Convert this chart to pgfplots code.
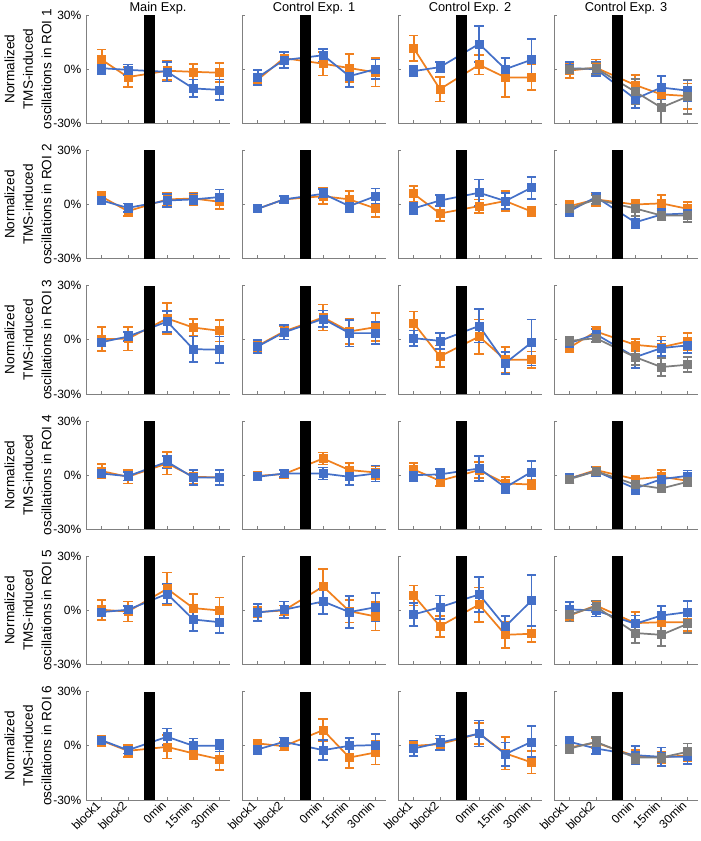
\documentclass[border=0pt]{standalone}
\usepackage{fontspec}
\setmainfont{Liberation Sans}
\usepackage{pgfplots}
\pgfplotsset{compat=1.18}
\definecolor{cO}{RGB}{240,128,30}
\definecolor{cB}{RGB}{68,112,200}
\definecolor{cG}{RGB}{125,125,125}
\pgfplotsset{
  base/.style={scale only axis, width=108pt, height=81.2pt, anchor=north west,
    xmin=0.4, xmax=5.9, ymin=-30, ymax=30,
    axis x line*=bottom, axis y line*=left,
    axis line style={draw=gray, line width=0.6pt},
    xtick={1,2,3.5,4.5,5.5}, ytick={-30,0,30},
    tick align=inside, major tick length=2.5pt, tick style={gray, line width=0.5pt},
    xticklabels={}, yticklabels={},
    ticklabel style={font=\fontsize{9}{10}\selectfont, text=black}},
  ylab/.style={yticklabels={-30\%,0\%,30\%},
    ylabel={Normalized\\TMS-induced\\oscillations in ROI #1},
    ylabel style={at={(axis description cs:-0.403,0.5)}, anchor=center, align=center,
      font=\fontsize{10.2}{13.9}\selectfont}},
  xlab/.style={xticklabels={block1,block2,0min,15min,30min},
    xticklabel style={rotate=45, anchor=east}},
  ttl/.style={title={#1}, title style={at={(0.5,1)}, anchor=base, yshift=-3.2pt,
    font=\fontsize{9.6}{11}\selectfont}},
  ser/.style={draw=#1, line width=1.3pt, mark=square*, mark size=3pt,
    mark options={fill=#1, draw=#1, line width=0.5pt},
    error bars/.cd, y dir=both, y explicit, error mark=-,
    error bar style={draw=#1, line width=1.3pt},
    error mark options={rotate=90, draw=#1, line width=1.3pt, mark size=3.5pt}},
}
\newcommand{\stimbar}{\fill[black] (axis cs:2.62,-30) rectangle (axis cs:3.04,30);}
\begin{document}
\begin{tikzpicture}
\path[use as bounding box] (0,0) rectangle (525pt,-630.75pt);
% ================= Row 1 =================
\begin{axis}[base, ylab=1, ttl={Main Exp.}, at={(64.5pt,-11.25pt)}]
\addplot[ser=cO] coordinates {(1,5.2) +- (0,5.7) (2,-4.4) +- (0,5.4) (3.5,-0.9) +- (0,5.3) (4.5,-1.5) +- (0,4.3) (5.5,-2) +- (0,5.3)};
\addplot[ser=cB] coordinates {(1,0.5) +- (0,3.3) (2,-0.4) +- (0,3) (3.5,-1.5) +- (0,5.3) (4.5,-10.7) +- (0,4.9) (5.5,-11.5) +- (0,5.8)};
\stimbar
\end{axis}
\begin{axis}[base, ttl={Control Exp. 1}, at={(181.5pt,-11.25pt)}]
\addplot[ser=cO] coordinates {(1,-5.9) +- (0,3) (2,6.1) +- (0,3.5) (3.5,3.0) +- (0,6.5) (4.5,0.6) +- (0,7.6) (5.5,-1.8) +- (0,7.9)};
\addplot[ser=cB] coordinates {(1,-4.6) +- (0,4.2) (2,5.0) +- (0,4.3) (3.5,7.7) +- (0,3.5) (4.5,-3.9) +- (0,6) (5.5,0) +- (0,5.3)};
\stimbar
\end{axis}
\begin{axis}[base, ttl={Control Exp. 2}, at={(298.5pt,-11.25pt)}]
\addplot[ser=cO] coordinates {(1,11.6) +- (0,7) (2,-11.1) +- (0,6.8) (3.5,2.4) +- (0,5.4) (4.5,-4.6) +- (0,11) (5.5,-4.6) +- (0,7.1)};
\addplot[ser=cB] coordinates {(1,-1.1) +- (0,3) (2,1.1) +- (0,2.9) (3.5,14) +- (0,10) (4.5,0) +- (0,6.3) (5.5,5.2) +- (0,11.3)};
\stimbar
\end{axis}
\begin{axis}[base, ttl={Control Exp. 3}, at={(415.5pt,-11.25pt)}]
\addplot[ser=cO] coordinates {(1,-0.8) +- (0,4.3) (2,0.8) +- (0,4.6) (3.5,-8.8) +- (0,5.4) (4.5,-14) +- (0,6) (5.5,-14.9) +- (0,7)};
\addplot[ser=cB] coordinates {(1,0.5) +- (0,3.5) (2,0) +- (0,4) (3.5,-16.5) +- (0,5) (4.5,-10.2) +- (0,6.2) (5.5,-11.9) +- (0,6)};
\addplot[ser=cG] coordinates {(1,0) +- (0,2.5) (2,0.5) +- (0,3) (3.5,-12.5) +- (0,7) (4.5,-21.3) +- (0,10) (5.5,-15.2) +- (0,9.5)};
\stimbar
\end{axis}
% ================= Row 2 =================
\begin{axis}[base, ylab=2, at={(64.5pt,-112.75pt)}]
\addplot[ser=cO] coordinates {(1,4.3) +- (0,2.7) (2,-3.7) +- (0,2.6) (3.5,2.8) +- (0,3.7) (4.5,3.3) +- (0,3.4) (5.5,1.5) +- (0,4)};
\addplot[ser=cB] coordinates {(1,2.2) +- (0,1.8) (2,-1.9) +- (0,2.4) (3.5,2.2) +- (0,3.7) (4.5,2.8) +- (0,2.8) (5.5,4.1) +- (0,4.2)};
\stimbar
\end{axis}
\begin{axis}[base, at={(181.5pt,-112.75pt)}]
\addplot[ser=cO] coordinates {(1,-2.4) +- (0,1.6) (2,2.8) +- (0,2.2) (3.5,4.6) +- (0,4.5) (4.5,2.8) +- (0,4.5) (5.5,-2.2) +- (0,4.6)};
\addplot[ser=cB] coordinates {(1,-2.4) +- (0,1.5) (2,2.8) +- (0,2) (3.5,5.9) +- (0,2.5) (4.5,-0.9) +- (0,3.4) (5.5,4.6) +- (0,4.3)};
\stimbar
\end{axis}
\begin{axis}[base, at={(298.5pt,-112.75pt)}]
\addplot[ser=cO] coordinates {(1,5.9) +- (0,4.4) (2,-5) +- (0,4) (3.5,-0.9) +- (0,3.7) (4.5,1.9) +- (0,5.4) (5.5,-3.9) +- (0,2.8)};
\addplot[ser=cB] coordinates {(1,-2.2) +- (0,3.1) (2,2.2) +- (0,3) (3.5,6.5) +- (0,7.4) (4.5,1.9) +- (0,4.6) (5.5,9.3) +- (0,6.1)};
\stimbar
\end{axis}
\begin{axis}[base, at={(415.5pt,-112.75pt)}]
\addplot[ser=cO] coordinates {(1,-0.9) +- (0,3) (2,2.8) +- (0,3.5) (3.5,0) +- (0,2.5) (4.5,0.6) +- (0,4.6) (5.5,-2.4) +- (0,3.7)};
\addplot[ser=cB] coordinates {(1,-3.7) +- (0,2.6) (2,4.1) +- (0,2.5) (3.5,-9.9) +- (0,3.3) (4.5,-5.6) +- (0,3.2) (5.5,-5) +- (0,4.5)};
\addplot[ser=cG] coordinates {(1,-2.2) +- (0,2) (2,2.8) +- (0,2.5) (3.5,-2.2) +- (0,4.2) (4.5,-6.1) +- (0,2.5) (5.5,-6.1) +- (0,3.5)};
\stimbar
\end{axis}
% ================= Row 3 =================
\begin{axis}[base, ylab=3, at={(64.5pt,-214.25pt)}]
\addplot[ser=cO] coordinates {(1,0.4) +- (0,6.5) (2,0.6) +- (0,6.5) (3.5,11.8) +- (0,8.5) (4.5,6.8) +- (0,4.8) (5.5,5.0) +- (0,5.9)};
\addplot[ser=cB] coordinates {(1,-1.3) +- (0,2.3) (2,1.8) +- (0,2.4) (3.5,10.1) +- (0,5.8) (4.5,-5.2) +- (0,7) (5.5,-5.5) +- (0,7.4)};
\stimbar
\end{axis}
\begin{axis}[base, at={(181.5pt,-214.25pt)}]
\addplot[ser=cO] coordinates {(1,-3.3) +- (0,3) (2,4.6) +- (0,2.8) (3.5,12.4) +- (0,7.2) (4.5,4.6) +- (0,7) (5.5,7.0) +- (0,7.8)};
\addplot[ser=cB] coordinates {(1,-3.7) +- (0,3.7) (2,4.1) +- (0,3.9) (3.5,11.6) +- (0,4.6) (4.5,3.7) +- (0,7.4) (5.5,3.7) +- (0,6.2)};
\stimbar
\end{axis}
\begin{axis}[base, at={(298.5pt,-214.25pt)}]
\addplot[ser=cO] coordinates {(1,9.2) +- (0,6.5) (2,-9.2) +- (0,6) (3.5,1.8) +- (0,9.5) (4.5,-11.1) +- (0,7) (5.5,-11.1) +- (0,4.6)};
\addplot[ser=cB] coordinates {(1,0.9) +- (0,4.3) (2,-0.6) +- (0,4.4) (3.5,7.7) +- (0,9.2) (4.5,-12.9) +- (0,6.1) (5.5,-1.5) +- (0,12.7)};
\stimbar
\end{axis}
\begin{axis}[base, at={(415.5pt,-214.25pt)}]
\addplot[ser=cO] coordinates {(1,-4.2) +- (0,2.6) (2,4.6) +- (0,2.8) (3.5,-2.8) +- (0,3.3) (4.5,-4.1) +- (0,6) (5.5,-0.9) +- (0,4.8)};
\addplot[ser=cB] coordinates {(1,-1.8) +- (0,3) (2,3.1) +- (0,3) (3.5,-9.6) +- (0,6) (4.5,-4.6) +- (0,4.2) (5.5,-3.1) +- (0,4.2)};
\addplot[ser=cG] coordinates {(1,-0.6) +- (0,2) (2,0.9) +- (0,2.2) (3.5,-9.6) +- (0,4.2) (4.5,-15.1) +- (0,4.9) (5.5,-13.8) +- (0,4.1)};
\stimbar
\end{axis}
% ================= Row 4 =================
\begin{axis}[base, ylab=4, at={(64.5pt,-315.75pt)}]
\addplot[ser=cO] coordinates {(1,2.2) +- (0,3.9) (2,-0.9) +- (0,3.7) (3.5,6.5) +- (0,6.2) (4.5,-0.9) +- (0,3.7) (5.5,-1.3) +- (0,4)};
\addplot[ser=cB] coordinates {(1,0.9) +- (0,1.8) (2,-0.6) +- (0,2.3) (3.5,7.4) +- (0,3.3) (4.5,-1.3) +- (0,4.2) (5.5,-1.3) +- (0,4.2)};
\stimbar
\end{axis}
\begin{axis}[base, at={(181.5pt,-315.75pt)}]
\addplot[ser=cO] coordinates {(1,-0.4) +- (0,2.2) (2,0.6) +- (0,2.2) (3.5,9.2) +- (0,3.3) (4.5,2.8) +- (0,3.9) (5.5,1.5) +- (0,3.7)};
\addplot[ser=cB] coordinates {(1,-0.9) +- (0,1.8) (2,0.9) +- (0,2) (3.5,0.9) +- (0,3.3) (4.5,-0.9) +- (0,4.4) (5.5,0.9) +- (0,4.4)};
\stimbar
\end{axis}
\begin{axis}[base, at={(298.5pt,-315.75pt)}]
\addplot[ser=cO] coordinates {(1,3.1) +- (0,3.7) (2,-3.1) +- (0,3) (3.5,2.8) +- (0,4.4) (4.5,-4.6) +- (0,3.7) (5.5,-5.2) +- (0,2.8)};
\addplot[ser=cB] coordinates {(1,0) +- (0,3.1) (2,0.4) +- (0,2.8) (3.5,3.7) +- (0,6.8) (4.5,-6.8) +- (0,3.1) (5.5,1.8) +- (0,6.1)};
\stimbar
\end{axis}
\begin{axis}[base, at={(415.5pt,-315.75pt)}]
\addplot[ser=cO] coordinates {(1,-1.8) +- (0,2.6) (2,2.8) +- (0,2) (3.5,-2.2) +- (0,1.8) (4.5,-0.9) +- (0,3.7) (5.5,-3.1) +- (0,2.3)};
\addplot[ser=cB] coordinates {(1,-1.8) +- (0,2.5) (2,2.2) +- (0,2.5) (3.5,-7.4) +- (0,3) (4.5,-2.2) +- (0,3) (5.5,-0.4) +- (0,3)};
\addplot[ser=cG] coordinates {(1,-2.2) +- (0,2) (2,2.2) +- (0,2) (3.5,-5.2) +- (0,2) (4.5,-7.4) +- (0,2.2) (5.5,-3.7) +- (0,2.6)};
\stimbar
\end{axis}
% ================= Row 5 =================
\begin{axis}[base, ylab=5, at={(64.5pt,-417.25pt)}]
\addplot[ser=cO] coordinates {(1,0.4) +- (0,5.5) (2,-0.6) +- (0,5.5) (3.5,12) +- (0,9) (4.5,1.3) +- (0,7.8) (5.5,0) +- (0,7.2)};
\addplot[ser=cB] coordinates {(1,-0.9) +- (0,2.1) (2,0.4) +- (0,2.1) (3.5,9.2) +- (0,5.3) (4.5,-5) +- (0,6.4) (5.5,-6.5) +- (0,6.1)};
\stimbar
\end{axis}
\begin{axis}[base, at={(181.5pt,-417.25pt)}]
\addplot[ser=cO] coordinates {(1,-0.9) +- (0,3) (2,0) +- (0,2.8) (3.5,13.3) +- (0,9.5) (4.5,-0.4) +- (0,6.2) (5.5,-3.3) +- (0,7.8)};
\addplot[ser=cB] coordinates {(1,-1.1) +- (0,4.8) (2,0.4) +- (0,4.6) (3.5,5) +- (0,7.1) (4.5,-0.9) +- (0,8.8) (5.5,1.8) +- (0,7.8)};
\stimbar
\end{axis}
\begin{axis}[base, at={(298.5pt,-417.25pt)}]
\addplot[ser=cO] coordinates {(1,8.3) +- (0,5.5) (2,-8.7) +- (0,5.8) (3.5,3.3) +- (0,9.5) (4.5,-13.5) +- (0,7.1) (5.5,-12.9) +- (0,4.6)};
\addplot[ser=cB] coordinates {(1,-2.2) +- (0,6.5) (2,1.8) +- (0,6.5) (3.5,8.9) +- (0,9.7) (4.5,-8.9) +- (0,5.7) (5.5,5.5) +- (0,14)};
\stimbar
\end{axis}
\begin{axis}[base, at={(415.5pt,-417.25pt)}]
\addplot[ser=cO] coordinates {(1,-2.8) +- (0,3) (2,2.8) +- (0,2.8) (3.5,-7) +- (0,6) (4.5,-6.5) +- (0,4.6) (5.5,-6.5) +- (0,5)};
\addplot[ser=cB] coordinates {(1,0.6) +- (0,4) (2,0) +- (0,3.3) (3.5,-7.4) +- (0,4.6) (4.5,-2.8) +- (0,5.2) (5.5,-0.9) +- (0,6.3)};
\addplot[ser=cG] coordinates {(1,-2.2) +- (0,3.9) (2,2.2) +- (0,3) (3.5,-12.5) +- (0,5.4) (4.5,-13.5) +- (0,6.3) (5.5,-7.4) +- (0,5)};
\stimbar
\end{axis}
% ================= Row 6 =================
\begin{axis}[base, ylab=6, xlab, at={(64.5pt,-518.75pt)}]
\addplot[ser=cO] coordinates {(1,2.8) +- (0,2.8) (2,-2.8) +- (0,3.2) (3.5,-0.6) +- (0,6.5) (4.5,-4.2) +- (0,3) (5.5,-7.4) +- (0,6)};
\addplot[ser=cB] coordinates {(1,3.1) +- (0,1.8) (2,-2.4) +- (0,1.8) (3.5,5) +- (0,4.6) (4.5,0) +- (0,4) (5.5,0) +- (0,3.2)};
\stimbar
\end{axis}
\begin{axis}[base, xlab, at={(181.5pt,-518.75pt)}]
\addplot[ser=cO] coordinates {(1,1.3) +- (0,1.8) (2,-0.2) +- (0,2.4) (3.5,8.7) +- (0,6.2) (4.5,-6.5) +- (0,5.8) (5.5,-3.7) +- (0,6.7)};
\addplot[ser=cB] coordinates {(1,-2) +- (0,2.5) (2,2.2) +- (0,2.4) (3.5,-2.4) +- (0,5.5) (4.5,0) +- (0,4.2) (5.5,0.4) +- (0,6.1)};
\stimbar
\end{axis}
\begin{axis}[base, xlab, at={(298.5pt,-518.75pt)}]
\addplot[ser=cO] coordinates {(1,0) +- (0,2.8) (2,0.9) +- (0,3.2) (3.5,6.8) +- (0,6) (4.5,-4.2) +- (0,9) (5.5,-9.2) +- (0,6.2)};
\addplot[ser=cB] coordinates {(1,-1.5) +- (0,4) (2,1.7) +- (0,4) (3.5,6.8) +- (0,7.2) (4.5,-4.6) +- (0,6.5) (5.5,2.2) +- (0,8.6)};
\stimbar
\end{axis}
\begin{axis}[base, xlab, at={(415.5pt,-518.75pt)}]
\addplot[ser=cO] coordinates {(1,-0.9) +- (0,3.2) (2,1.7) +- (0,2.8) (3.5,-5.7) +- (0,3.5) (4.5,-6.5) +- (0,3) (5.5,-5.2) +- (0,3.2)};
\addplot[ser=cB] coordinates {(1,2.2) +- (0,2.8) (2,-1.5) +- (0,3) (3.5,-5.2) +- (0,5.2) (4.5,-6.1) +- (0,5.2) (5.5,-6.1) +- (0,4)};
\addplot[ser=cG] coordinates {(1,-1.5) +- (0,2.8) (2,2.2) +- (0,2.8) (3.5,-6.5) +- (0,3) (4.5,-6.5) +- (0,2.8) (5.5,-3.3) +- (0,4.6)};
\stimbar
\end{axis}
\end{tikzpicture}
\end{document}
